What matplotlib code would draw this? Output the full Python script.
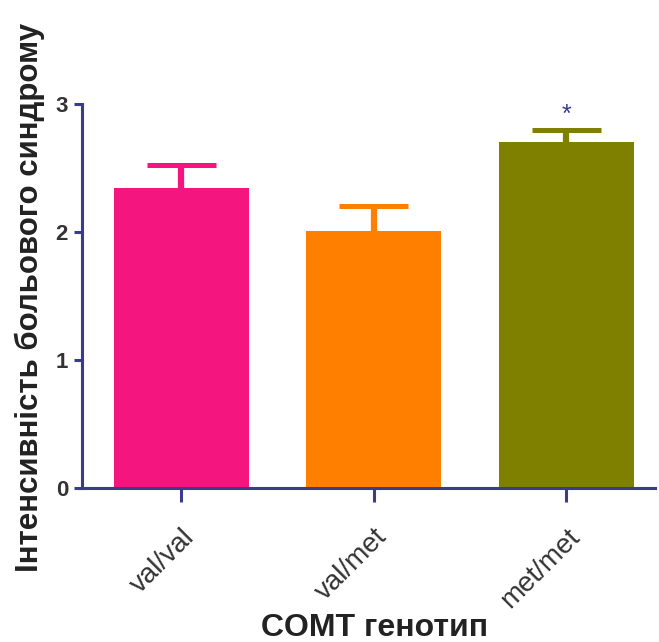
import matplotlib
matplotlib.use("Agg")
from matplotlib import pyplot as plt

genotypes = ["val/val", "val/met", "met/met"]
means = [2.34, 2.01, 2.70]
sem = [0.18, 0.19, 0.10]
colors = ["#F5157E", "#FF8000", "#808000"]
marks = ["", "", "*"]
yticks = [0, 1, 2, 3]

axis_clr = "#383C8A"
plt.rcParams['font.family'] = ['Liberation Sans', 'DejaVu Sans']

fig = plt.figure(figsize=(6.59, 6.42), dpi=100)
ax = fig.add_axes([82 / 659, 1 - 488 / 642, 573 / 659, 384 / 642])

x = list(range(len(genotypes)))
ax.bar(x, means, width=0.70, color=colors, zorder=2)
# upper half of the error bars only: stem + cap
for xi, m, e, c, s in zip(x, means, sem, colors, marks):
    ax.vlines(xi, m - 0.05, m + e, color=c, linewidth=4.5, zorder=1)
    ax.hlines(m + e, xi - 0.18, xi + 0.18, color=c, linewidth=3.6, zorder=1)
    if s:
        ax.text(xi, m + e + 0.02, s, ha="center", va="bottom", fontsize=18,
                color=axis_clr)

ax.set_xlim(-0.515, 2.46)
ax.set_ylim(0, 3)
ax.set_yticks(yticks)
ax.set_yticklabels([str(t) for t in yticks], fontsize=16, fontweight="bold")
ax.set_xticks(x)
ax.set_xticklabels(genotypes, rotation=45, ha="right", rotation_mode="anchor",
                   fontsize=20)

for side in ["top", "right"]:
    ax.spines[side].set_visible(False)
for side in ["left", "bottom"]:
    ax.spines[side].set_color(axis_clr)
    ax.spines[side].set_linewidth(2.2)
ax.tick_params(axis="y", colors=axis_clr, length=6, width=2.2, labelcolor="#333333", pad=4)
ax.tick_params(axis="x", colors=axis_clr, length=10, width=2.2, labelcolor="#333333", pad=16)

ax.set_ylabel("Інтенсивність больового синдрому", fontsize=22.5, fontweight="bold",
              color="#222222")
ax.yaxis.set_label_coords(-52 / 573, 0.5 - 1 / 384)
ax.set_xlabel("COMT генотип", fontsize=23, fontweight="bold", color="#222222")
ax.xaxis.set_label_coords((375 - 82) / 573, -(628 - 488) / 384)
ax.xaxis.label.set_va("center")
ax.yaxis.label.set_va("center")

fig.savefig("out.png", dpi=100)
